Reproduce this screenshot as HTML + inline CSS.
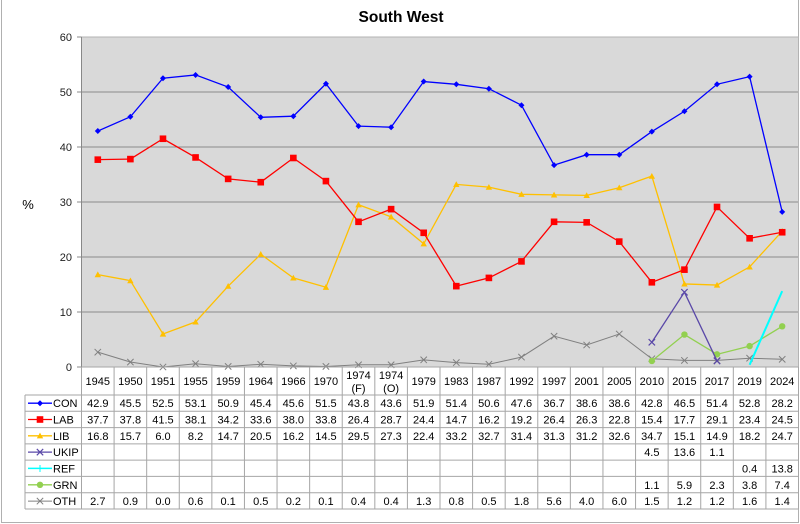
<!DOCTYPE html>
<html><head><meta charset="utf-8"><style>
html,body{margin:0;padding:0;background:#fff;}
svg{display:block;font-family:"Liberation Sans",Arial,sans-serif;}
</style></head><body>
<svg width="800" height="524" viewBox="0 0 800 524" xmlns="http://www.w3.org/2000/svg">
<defs>
<marker id="mCON" markerUnits="userSpaceOnUse" markerWidth="10" markerHeight="10" refX="5" refY="5" overflow="visible"><path d="M5 2 L8 5 L5 8 L2 5 Z" fill="#0000ff"/></marker>
<marker id="mLAB" markerUnits="userSpaceOnUse" markerWidth="10" markerHeight="10" refX="5" refY="5" overflow="visible"><rect x="1.7" y="1.7" width="6.6" height="6.6" fill="#ff0000"/></marker>
<marker id="mLIB" markerUnits="userSpaceOnUse" markerWidth="10" markerHeight="10" refX="5" refY="5" overflow="visible"><path d="M5 1.8 L8.2 7.6 L1.8 7.6 Z" fill="#ffc000"/></marker>
<marker id="mUKIP" markerUnits="userSpaceOnUse" markerWidth="10" markerHeight="10" refX="5" refY="5" overflow="visible"><path d="M1.8 1.8 L8.2 8.2 M8.2 1.8 L1.8 8.2" stroke="#5a48a8" stroke-width="1.2"/></marker>
<marker id="mGRN" markerUnits="userSpaceOnUse" markerWidth="10" markerHeight="10" refX="5" refY="5" overflow="visible"><circle cx="5" cy="5" r="3.2" fill="#92d050"/></marker>
<marker id="mOTH" markerUnits="userSpaceOnUse" markerWidth="10" markerHeight="10" refX="5" refY="5" overflow="visible"><path d="M1.8 1.8 L8.2 8.2 M8.2 1.8 L1.8 8.2" stroke="#808080" stroke-width="1"/></marker>
</defs>

<!-- outer border -->
<path d="M1.5 0 L1.5 522.5 L798.5 522.5 L798.5 0" fill="none" stroke="#b0b0b0" stroke-width="1"/>

<!-- title -->
<text x="401" y="22" font-size="15.5" font-weight="bold" text-anchor="middle" fill="#000">South West</text>

<!-- plot area -->
<rect x="81.5" y="37" width="717" height="330" fill="#d9d9d9"/>
<g stroke="#8c8c8c" stroke-width="1">
<line x1="81.5" y1="92" x2="798.5" y2="92"/>
<line x1="81.5" y1="147" x2="798.5" y2="147"/>
<line x1="81.5" y1="202" x2="798.5" y2="202"/>
<line x1="81.5" y1="257" x2="798.5" y2="257"/>
<line x1="81.5" y1="312" x2="798.5" y2="312"/>
</g>
<rect x="81.5" y="37" width="717" height="330" fill="none" stroke="#b3b3b3" stroke-width="1"/>
<line x1="81.5" y1="37" x2="81.5" y2="367" stroke="#888" stroke-width="1"/>
<g stroke="#888" stroke-width="1">
<line x1="77" y1="37" x2="81.5" y2="37"/>
<line x1="77" y1="92" x2="81.5" y2="92"/>
<line x1="77" y1="147" x2="81.5" y2="147"/>
<line x1="77" y1="202" x2="81.5" y2="202"/>
<line x1="77" y1="257" x2="81.5" y2="257"/>
<line x1="77" y1="312" x2="81.5" y2="312"/>
<line x1="77" y1="367" x2="81.5" y2="367"/>
</g>
<g font-size="11" fill="#222" text-anchor="end">
<text x="72" y="41">60</text>
<text x="72" y="96">50</text>
<text x="72" y="151">40</text>
<text x="72" y="206">30</text>
<text x="72" y="261">20</text>
<text x="72" y="316">10</text>
<text x="72" y="371">0</text>
</g>
<text x="28" y="209" font-size="13" text-anchor="middle" fill="#000">%</text>

<!-- series -->
<polyline fill="none" stroke="#808080" stroke-width="1" marker-start="url(#mOTH)" marker-mid="url(#mOTH)" marker-end="url(#mOTH)"
points="97.80,352.15 130.39,362.05 162.98,367 195.57,363.7 228.16,366.45 260.75,364.25 293.34,365.9 325.93,366.45 358.52,364.8 391.11,364.8 423.70,359.85 456.30,362.6 488.89,364.25 521.48,357.1 554.07,336.2 586.66,345 619.25,334 651.84,358.75 684.43,360.4 717.02,360.4 749.61,358.2 782.20,359.3"/>
<polyline fill="none" stroke="#92d050" stroke-width="1.3" marker-start="url(#mGRN)" marker-mid="url(#mGRN)" marker-end="url(#mGRN)"
points="651.84,360.95 684.43,334.55 717.02,354.35 749.61,346.1 782.20,326.3"/>
<polyline fill="none" stroke="#5a48a8" stroke-width="1.3" marker-start="url(#mUKIP)" marker-mid="url(#mUKIP)" marker-end="url(#mUKIP)"
points="651.84,342.25 684.43,292.2 717.02,360.95"/>
<polyline fill="none" stroke="#00ffff" stroke-width="2"
points="749.61,364.8 782.20,291.1"/>
<polyline fill="none" stroke="#ffc000" stroke-width="1.3" marker-start="url(#mLIB)" marker-mid="url(#mLIB)" marker-end="url(#mLIB)"
points="97.80,274.6 130.39,280.65 162.98,334 195.57,321.9 228.16,286.15 260.75,254.25 293.34,277.9 325.93,287.25 358.52,204.75 391.11,216.85 423.70,243.8 456.30,184.4 488.89,187.15 521.48,194.3 554.07,194.85 586.66,195.4 619.25,187.7 651.84,176.15 684.43,283.95 717.02,285.05 749.61,266.9 782.20,231.15"/>
<polyline fill="none" stroke="#ff0000" stroke-width="1.3" marker-start="url(#mLAB)" marker-mid="url(#mLAB)" marker-end="url(#mLAB)"
points="97.80,159.65 130.39,159.1 162.98,138.75 195.57,157.45 228.16,178.9 260.75,182.2 293.34,158 325.93,181.1 358.52,221.8 391.11,209.15 423.70,232.8 456.30,286.15 488.89,277.9 521.48,261.4 554.07,221.8 586.66,222.35 619.25,241.6 651.84,282.3 684.43,269.65 717.02,206.95 749.61,238.3 782.20,232.25"/>
<polyline fill="none" stroke="#0000ff" stroke-width="1.3" marker-start="url(#mCON)" marker-mid="url(#mCON)" marker-end="url(#mCON)"
points="97.80,131.05 130.39,116.75 162.98,78.25 195.57,74.95 228.16,87.05 260.75,117.3 293.34,116.2 325.93,83.75 358.52,126.1 391.11,127.2 423.70,81.55 456.30,84.3 488.89,88.7 521.48,105.2 554.07,165.15 586.66,154.7 619.25,154.7 651.84,131.6 684.43,111.25 717.02,84.3 749.61,76.6 782.20,211.9"/>

<!-- table -->
<g stroke="#a6a6a6" stroke-width="1">
<line x1="81.5" y1="367" x2="798.5" y2="367"/>
<line x1="25" y1="395" x2="798.5" y2="395"/>
<line x1="25" y1="411.3" x2="798.5" y2="411.3"/>
<line x1="25" y1="427.6" x2="798.5" y2="427.6"/>
<line x1="25" y1="443.9" x2="798.5" y2="443.9"/>
<line x1="25" y1="460.1" x2="798.5" y2="460.1"/>
<line x1="25" y1="476.4" x2="798.5" y2="476.4"/>
<line x1="25" y1="492.7" x2="798.5" y2="492.7"/>
<line x1="25" y1="509" x2="798.5" y2="509"/>
<line x1="25" y1="395" x2="25" y2="509"/>
<line x1="81.5" y1="367" x2="81.5" y2="509"/>
<line x1="114.09" y1="367" x2="114.09" y2="509"/>
<line x1="146.68" y1="367" x2="146.68" y2="509"/>
<line x1="179.27" y1="367" x2="179.27" y2="509"/>
<line x1="211.86" y1="367" x2="211.86" y2="509"/>
<line x1="244.45" y1="367" x2="244.45" y2="509"/>
<line x1="277.05" y1="367" x2="277.05" y2="509"/>
<line x1="309.64" y1="367" x2="309.64" y2="509"/>
<line x1="342.23" y1="367" x2="342.23" y2="509"/>
<line x1="374.82" y1="367" x2="374.82" y2="509"/>
<line x1="407.41" y1="367" x2="407.41" y2="509"/>
<line x1="440.00" y1="367" x2="440.00" y2="509"/>
<line x1="472.59" y1="367" x2="472.59" y2="509"/>
<line x1="505.18" y1="367" x2="505.18" y2="509"/>
<line x1="537.77" y1="367" x2="537.77" y2="509"/>
<line x1="570.36" y1="367" x2="570.36" y2="509"/>
<line x1="602.95" y1="367" x2="602.95" y2="509"/>
<line x1="635.55" y1="367" x2="635.55" y2="509"/>
<line x1="668.14" y1="367" x2="668.14" y2="509"/>
<line x1="700.73" y1="367" x2="700.73" y2="509"/>
<line x1="733.32" y1="367" x2="733.32" y2="509"/>
<line x1="765.91" y1="367" x2="765.91" y2="509"/>
<line x1="798.5" y1="367" x2="798.5" y2="509"/>
</g>

<!-- header years -->
<g font-size="11" fill="#000" text-anchor="middle">
<text x="97.80" y="385">1945</text>
<text x="130.39" y="385">1950</text>
<text x="162.98" y="385">1951</text>
<text x="195.57" y="385">1955</text>
<text x="228.16" y="385">1959</text>
<text x="260.75" y="385">1964</text>
<text x="293.34" y="385">1966</text>
<text x="325.93" y="385">1970</text>
<text x="358.52" y="379">1974</text><text x="358.52" y="392">(F)</text>
<text x="391.11" y="379">1974</text><text x="391.11" y="392">(O)</text>
<text x="423.70" y="385">1979</text>
<text x="456.30" y="385">1983</text>
<text x="488.89" y="385">1987</text>
<text x="521.48" y="385">1992</text>
<text x="554.07" y="385">1997</text>
<text x="586.66" y="385">2001</text>
<text x="619.25" y="385">2005</text>
<text x="651.84" y="385">2010</text>
<text x="684.43" y="385">2015</text>
<text x="717.02" y="385">2017</text>
<text x="749.61" y="385">2019</text>
<text x="782.20" y="385">2024</text>
</g>

<!-- legend column -->
<g font-size="11" fill="#000">
<line x1="28" y1="403.2" x2="52" y2="403.2" stroke="#0000ff" stroke-width="1.3"/><path d="M40 400.2 L43 403.2 L40 406.2 L37 403.2 Z" fill="#0000ff"/>
<text x="53" y="407.2">CON</text>
<line x1="28" y1="419.5" x2="52" y2="419.5" stroke="#ff0000" stroke-width="1.3"/><rect x="36.7" y="416.2" width="6.6" height="6.6" fill="#ff0000"/>
<text x="53" y="423.5">LAB</text>
<line x1="28" y1="435.8" x2="52" y2="435.8" stroke="#ffc000" stroke-width="1.3"/><path d="M40 432.6 L43.2 438.4 L36.8 438.4 Z" fill="#ffc000"/>
<text x="53" y="439.8">LIB</text>
<line x1="28" y1="452.1" x2="52" y2="452.1" stroke="#5a48a8" stroke-width="1.3"/><path d="M36.8 448.9 L43.2 455.3 M43.2 448.9 L36.8 455.3" stroke="#5a48a8" stroke-width="1.2"/>
<text x="53" y="456.1">UKIP</text>
<line x1="28" y1="468.4" x2="52" y2="468.4" stroke="#00ffff" stroke-width="1.5"/><path d="M40 465 L40 472" stroke="#00ffff" stroke-width="1"/>
<text x="53" y="472.4">REF</text>
<line x1="28" y1="484.8" x2="52" y2="484.8" stroke="#92d050" stroke-width="1.3"/><circle cx="40" cy="484.8" r="3.2" fill="#92d050"/>
<text x="53" y="488.8">GRN</text>
<line x1="28" y1="501.1" x2="52" y2="501.1" stroke="#808080" stroke-width="1"/><path d="M36.8 497.9 L43.2 504.3 M43.2 497.9 L36.8 504.3" stroke="#808080" stroke-width="1"/>
<text x="53" y="505.1">OTH</text>
</g>

<!-- data values -->
<g font-size="11" fill="#000" text-anchor="middle">
<text x="97.80" y="407.2">42.9</text><text x="130.39" y="407.2">45.5</text><text x="162.98" y="407.2">52.5</text><text x="195.57" y="407.2">53.1</text><text x="228.16" y="407.2">50.9</text><text x="260.75" y="407.2">45.4</text><text x="293.34" y="407.2">45.6</text><text x="325.93" y="407.2">51.5</text><text x="358.52" y="407.2">43.8</text><text x="391.11" y="407.2">43.6</text><text x="423.70" y="407.2">51.9</text><text x="456.30" y="407.2">51.4</text><text x="488.89" y="407.2">50.6</text><text x="521.48" y="407.2">47.6</text><text x="554.07" y="407.2">36.7</text><text x="586.66" y="407.2">38.6</text><text x="619.25" y="407.2">38.6</text><text x="651.84" y="407.2">42.8</text><text x="684.43" y="407.2">46.5</text><text x="717.02" y="407.2">51.4</text><text x="749.61" y="407.2">52.8</text><text x="782.20" y="407.2">28.2</text>
<text x="97.80" y="423.5">37.7</text><text x="130.39" y="423.5">37.8</text><text x="162.98" y="423.5">41.5</text><text x="195.57" y="423.5">38.1</text><text x="228.16" y="423.5">34.2</text><text x="260.75" y="423.5">33.6</text><text x="293.34" y="423.5">38.0</text><text x="325.93" y="423.5">33.8</text><text x="358.52" y="423.5">26.4</text><text x="391.11" y="423.5">28.7</text><text x="423.70" y="423.5">24.4</text><text x="456.30" y="423.5">14.7</text><text x="488.89" y="423.5">16.2</text><text x="521.48" y="423.5">19.2</text><text x="554.07" y="423.5">26.4</text><text x="586.66" y="423.5">26.3</text><text x="619.25" y="423.5">22.8</text><text x="651.84" y="423.5">15.4</text><text x="684.43" y="423.5">17.7</text><text x="717.02" y="423.5">29.1</text><text x="749.61" y="423.5">23.4</text><text x="782.20" y="423.5">24.5</text>
<text x="97.80" y="439.8">16.8</text><text x="130.39" y="439.8">15.7</text><text x="162.98" y="439.8">6.0</text><text x="195.57" y="439.8">8.2</text><text x="228.16" y="439.8">14.7</text><text x="260.75" y="439.8">20.5</text><text x="293.34" y="439.8">16.2</text><text x="325.93" y="439.8">14.5</text><text x="358.52" y="439.8">29.5</text><text x="391.11" y="439.8">27.3</text><text x="423.70" y="439.8">22.4</text><text x="456.30" y="439.8">33.2</text><text x="488.89" y="439.8">32.7</text><text x="521.48" y="439.8">31.4</text><text x="554.07" y="439.8">31.3</text><text x="586.66" y="439.8">31.2</text><text x="619.25" y="439.8">32.6</text><text x="651.84" y="439.8">34.7</text><text x="684.43" y="439.8">15.1</text><text x="717.02" y="439.8">14.9</text><text x="749.61" y="439.8">18.2</text><text x="782.20" y="439.8">24.7</text>
<text x="651.84" y="456.1">4.5</text><text x="684.43" y="456.1">13.6</text><text x="717.02" y="456.1">1.1</text>
<text x="749.61" y="472.4">0.4</text><text x="782.20" y="472.4">13.8</text>
<text x="651.84" y="488.8">1.1</text><text x="684.43" y="488.8">5.9</text><text x="717.02" y="488.8">2.3</text><text x="749.61" y="488.8">3.8</text><text x="782.20" y="488.8">7.4</text>
<text x="97.80" y="505.1">2.7</text><text x="130.39" y="505.1">0.9</text><text x="162.98" y="505.1">0.0</text><text x="195.57" y="505.1">0.6</text><text x="228.16" y="505.1">0.1</text><text x="260.75" y="505.1">0.5</text><text x="293.34" y="505.1">0.2</text><text x="325.93" y="505.1">0.1</text><text x="358.52" y="505.1">0.4</text><text x="391.11" y="505.1">0.4</text><text x="423.70" y="505.1">1.3</text><text x="456.30" y="505.1">0.8</text><text x="488.89" y="505.1">0.5</text><text x="521.48" y="505.1">1.8</text><text x="554.07" y="505.1">5.6</text><text x="586.66" y="505.1">4.0</text><text x="619.25" y="505.1">6.0</text><text x="651.84" y="505.1">1.5</text><text x="684.43" y="505.1">1.2</text><text x="717.02" y="505.1">1.2</text><text x="749.61" y="505.1">1.6</text><text x="782.20" y="505.1">1.4</text>
</g>
</svg>
</body></html>
